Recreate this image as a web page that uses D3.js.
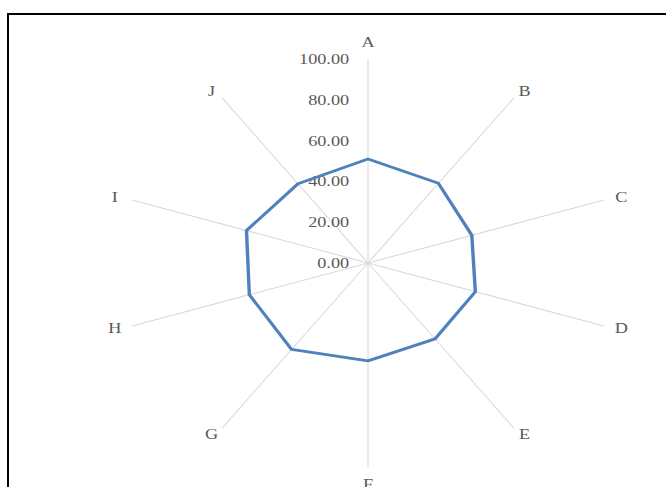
<!DOCTYPE html>
<html>
<head>
<meta charset="utf-8">
<script src="https://cdn.jsdelivr.net/npm/d3@7"></script>
<style>
  body { margin: 0; background: #fff; }
  text { font-family: "Liberation Serif", "Times New Roman", serif; fill: #595959; }
</style>
</head>
<body>
<div id="chart"></div>
<script>
// ----------
var categories = ['A', 'B', 'C', 'D', 'E', 'F', 'G', 'H', 'I', 'J'];
var values = [51, 48.3, 44, 45.5, 46, 48, 52.4, 50.3, 51.5, 48];
var tickValues = [0, 20, 40, 60, 80, 100];

var width = 666, height = 487;
var cx = 368, cy = 263;
var radius = 204;
var stretchX = 1.216; // chart is drawn wider than tall

var svg = d3.select('#chart').append('svg')
  .attr('width', width)
  .attr('height', height);

svg.append('rect')
  .attr('width', width)
  .attr('height', height)
  .style('fill', '#fff');

// outer frame, only top and left are visible
svg.append('rect')
  .attr('x', 8)
  .attr('y', 14)
  .attr('width', 720)
  .attr('height', 520)
  .style('fill', 'none')
  .style('stroke', '#000')
  .style('stroke-width', 2);

var r = d3.scaleLinear().domain([0, 100]).range([0, radius]);
var angle = d3.scaleLinear().domain([0, categories.length]).range([0, 2 * Math.PI]);

var g = svg.append('g')
  .attr('transform', 'translate(' + cx + ',' + cy + ') scale(' + stretchX + ',1)');

// ----------
// spokes
g.selectAll('line.spoke')
  .data(categories)
  .enter().append('line')
  .attr('class', 'spoke')
  .attr('x1', 0)
  .attr('y1', 0)
  .attr('x2', function(d, i) { return Math.sin(angle(i)) * r(100); })
  .attr('y2', function(d, i) { return -Math.cos(angle(i)) * r(100); })
  .style('stroke', '#d9d9d9')
  .style('stroke-width', 1.1)
  .attr('vector-effect', 'non-scaling-stroke');

// ----------
// tick labels along the A spoke
g.selectAll('text.tick')
  .data(tickValues)
  .enter().append('text')
  .attr('class', 'tick')
  .attr('x', -15.5)
  .attr('y', function(d) { return -r(d); })
  .attr('text-anchor', 'end')
  .attr('dominant-baseline', 'central')
  .style('font-size', '15px')
  .text(function(d) { return d3.format('.2f')(d); });

// ----------
// category labels (F sits at the bottom edge, partly cut like the original)
g.selectAll('text.cat')
  .data(categories)
  .enter().append('text')
  .attr('class', 'cat')
  .attr('x', function(d, i) { return Math.sin(angle(i)) * 219; })
  .attr('y', function(d, i) {
    var c = Math.cos(angle(i));
    return -c * (Math.abs(c) > 0.99 ? 221 : 212);
  })
  .attr('text-anchor', 'middle')
  .attr('dominant-baseline', 'central')
  .style('font-size', '15px')
  .text(function(d) { return d; });

// ----------
// series
var line = d3.lineRadial()
  .angle(function(d, i) { return angle(i); })
  .radius(function(d) { return r(d); })
  .curve(d3.curveLinearClosed);

g.append('path')
  .datum(values)
  .attr('d', line)
  .style('fill', 'none')
  .style('stroke', '#4f81bd')
  .style('stroke-width', 2.8)
  .style('stroke-linejoin', 'round');
</script>
</body>
</html>
